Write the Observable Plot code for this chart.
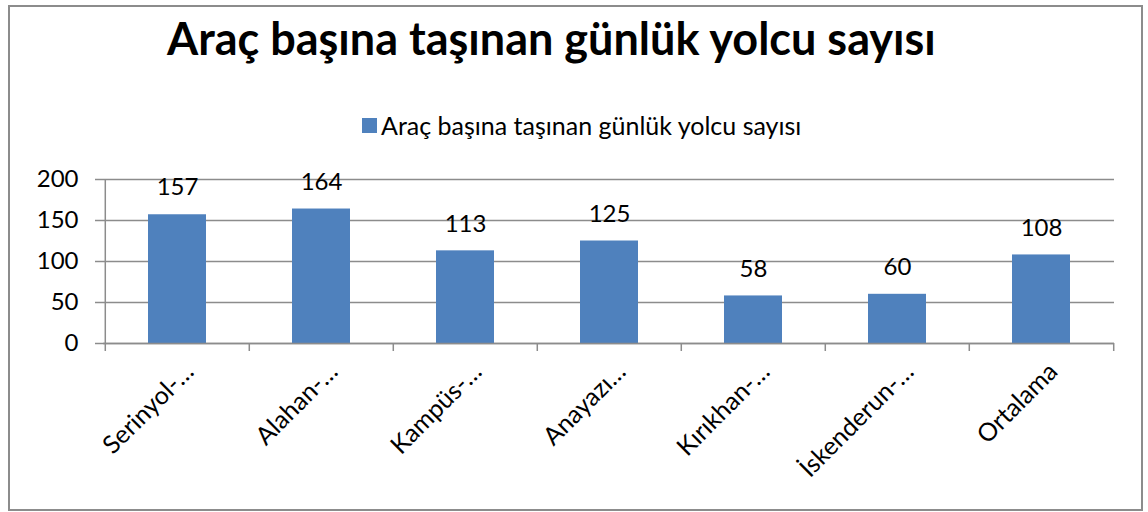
<!DOCTYPE html>
<html>
<head>
<meta charset="utf-8">
<script src="https://cdn.jsdelivr.net/npm/d3@7"></script>
<script src="https://cdn.jsdelivr.net/npm/@observablehq/plot@0.6"></script>
<style>
  html, body { margin: 0; padding: 0; background: #fff; }
  #wrap { position: relative; width: 1148px; height: 512px; overflow: hidden; font-family: Lato, "Open Sans", sans-serif; }
  #frame { position: absolute; left: 8px; top: 5px; width: 1135px; height: 506px; border: 2px solid #8c8c8c; box-sizing: border-box; }
  #title { position: absolute; left: 167px; top: 11px; font-weight: bold; font-size: 45px; color: #000; white-space: nowrap; }
  #legend { position: absolute; left: 362px; top: 110px; font-size: 25px; color: #000; white-space: nowrap; display: flex; align-items: center; }
  #legend .sw { display: inline-block; width: 15px; height: 15px; background: #4f81bd; margin-right: 4px; }
  #chart { position: absolute; left: 0; top: 150px; }
</style>
</head>
<body>
<div id="wrap">
  <div id="frame"></div>
  <div id="title"></div>
  <div id="legend"><span class="sw"></span><span id="legtext"></span></div>
  <div id="chart"></div>
</div>
<script>
const title = "Araç başına taşınan günlük yolcu sayısı";
const seriesName = "Araç başına taşınan günlük yolcu sayısı";
const categories = ["Serinyol-…", "Alahan-…", "Kampüs-…", "Anayazı…", "Kırıkhan-…", "İskenderun-…", "Ortalama"];
const values = [157, 164, 113, 125, 58, 60, 108];
const yTicks = [0, 50, 100, 150, 200];

document.getElementById("title").textContent = title;
document.getElementById("legtext").textContent = seriesName;

const data = categories.map((c, i) => ({category: c, value: values[i]}));

const W = 1148, H = 355, ML = 103, MR = 34, MT = 29, MB = 162;
const step = (W - ML - MR) / categories.length;
const grey = "#8c8c8c";

const chart = Plot.plot({
  width: W,
  height: H,
  marginLeft: ML,
  marginRight: MR,
  marginTop: MT,
  marginBottom: MB,
  style: {fontFamily: "Lato, 'Open Sans', sans-serif", fontSize: "24px", color: "#000", background: "transparent"},
  x: {domain: categories, paddingInner: 0.6, paddingOuter: 0.3, label: null},
  y: {domain: [0, 200], ticks: yTicks, label: null},
  marks: [
    Plot.gridY(yTicks, {stroke: grey, strokeOpacity: 1, strokeWidth: 1.5}),
    Plot.axisY(yTicks, {tickSize: 8, tickPadding: 17, stroke: grey, strokeWidth: 1.5, strokeOpacity: 1, fontSize: 24, fill: "#000", label: null}),
    Plot.barY(data, {x: "category", y: "value", fill: "#4f81bd"}),
    Plot.ruleY([0], {stroke: grey, strokeWidth: 1.5}),
    Plot.ruleX([categories[0]], {x: d => d, dx: -step / 2, y1: 0, y2: 200, stroke: grey, strokeWidth: 1.5}),
    Plot.ruleX(categories, {x: d => d, dx: -step / 2, y1: 0, y2: 0, insetBottom: -8, stroke: grey, strokeWidth: 1.5}),
    Plot.ruleX([categories[categories.length - 1]], {x: d => d, dx: step / 2, y1: 0, y2: 0, insetBottom: -8, stroke: grey, strokeWidth: 1.5}),
    Plot.text(data, {x: "category", y: "value", text: d => String(d.value), dy: -27, fontSize: 24, fill: "#000"}),
    Plot.axisX({tickSize: 0, tickPadding: 24, tickRotate: -45, dx: 12, fontSize: 25, fill: "#000", label: null})
  ]
});
document.getElementById("chart").appendChild(chart);
</script>
</body>
</html>
